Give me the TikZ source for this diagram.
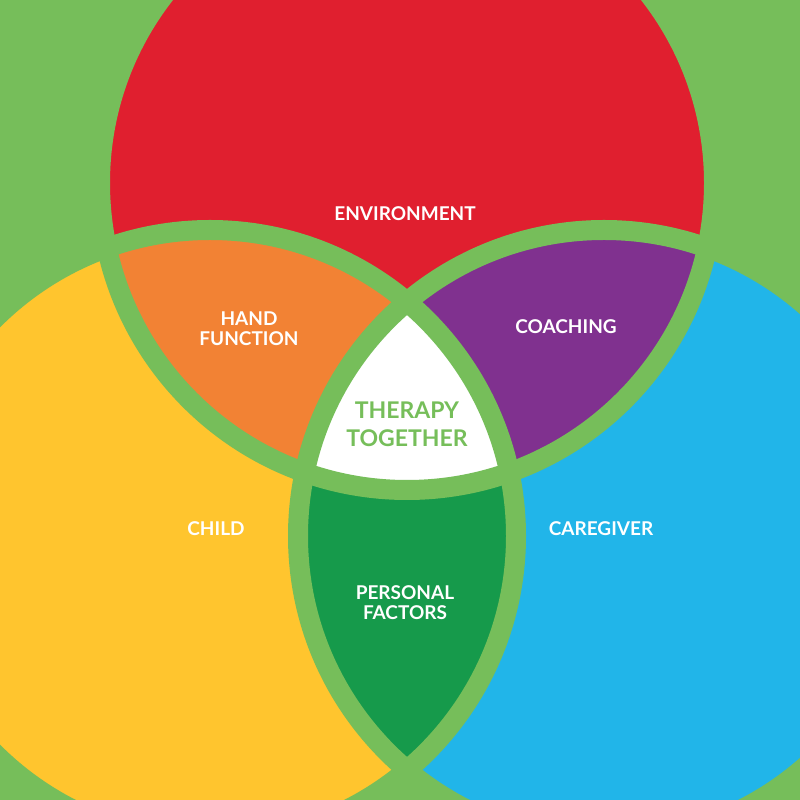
\documentclass[tikz,border=0pt]{standalone}
\usepackage{fontspec}
\setmainfont{Lato}
\definecolor{bggreen}{HTML}{76BE5A}
\definecolor{vred}{HTML}{E01F2F}
\definecolor{vyellow}{HTML}{FFC52E}
\definecolor{vblue}{HTML}{21B5E9}
\definecolor{vorange}{HTML}{F28234}
\definecolor{vpurple}{HTML}{80318F}
\definecolor{vdgreen}{HTML}{169A4B}
\tikzset{
  lbl/.style={text=white, font=\fontsize{19}{20}\selectfont\bfseries, align=center, inner sep=0pt},
  biglbl/.style={text=bggreen, font=\fontsize{23}{28}\selectfont\bfseries, align=center, inner sep=0pt},
  ring/.style={draw=bggreen, line width=20pt}
}
\begin{document}
\begin{tikzpicture}[x=1pt,y=1pt]
\useasboundingbox (0,0) rectangle (800,800);
\begin{scope}
\clip (0,0) rectangle (800,800);
\fill[bggreen] (0,0) rectangle (800,800);
\def\redc{(407,617) circle[radius=307pt]}
\def\yelc{(210,264) circle[radius=306pt]}
\def\bluc{(604,264) circle[radius=306pt]}
\fill[vred] \redc;
\fill[vyellow] \yelc;
\fill[vblue] \bluc;
\begin{scope}
  \clip \redc;
  \fill[vorange] \yelc;
  \fill[vpurple] \bluc;
\end{scope}
\begin{scope}
  \clip \yelc;
  \fill[vdgreen] \bluc;
\end{scope}
\begin{scope}
  \clip \redc;
  \clip \yelc;
  \fill[white] \bluc;
\end{scope}
\draw[ring] \redc;
\draw[ring] \yelc;
\draw[ring] \bluc;
\end{scope}
\node[lbl, anchor=base] (env) at (405,579) {ENVIRONMENT};
\node[lbl] (hand) at (249,471) {HAND\\FUNCTION};
\node[lbl, anchor=base] (coach) at (566,466) {COACHING};
\node[biglbl] (ther) at (407,376) {THERAPY\\TOGETHER};
\node[lbl, anchor=base] (child) at (216,264) {CHILD};
\node[lbl, anchor=base] (care) at (601,264) {CAREGIVER};
\node[lbl] (pers) at (405,197) {PERSONAL\\FACTORS};
\end{tikzpicture}
\end{document}
